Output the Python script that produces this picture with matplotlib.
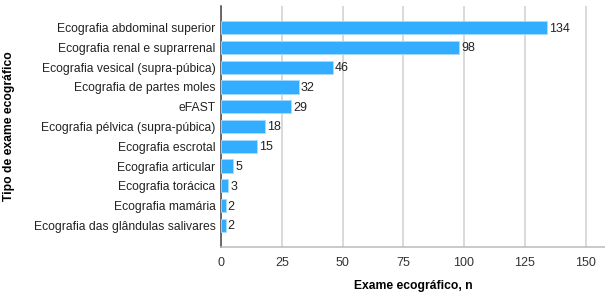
import matplotlib
matplotlib.use("Agg")
import matplotlib.pyplot as plt

categories = [
    "Ecografia abdominal superior",
    "Ecografia renal e suprarrenal",
    "Ecografia vesical (supra-púbica)",
    "Ecografia de partes moles",
    "eFAST",
    "Ecografia pélvica (supra-púbica)",
    "Ecografia escrotal",
    "Ecografia articular",
    "Ecografia torácica",
    "Ecografia mamária",
    "Ecografia das glândulas salivares",
]
values = [134, 98, 46, 32, 29, 18, 15, 5, 3, 2, 2]
xticks = [0, 25, 50, 75, 100, 125, 150]

plt.rcParams['font.family'] = ['Liberation Sans', 'DejaVu Sans']
FS = 8.7

fig = plt.figure(figsize=(6.05, 3.01), dpi=100)
ax = fig.add_axes([221/605, 1-247/301, (605-221)/605, (247-6)/301])

ypos = list(range(len(categories)))
ax.barh(ypos, values, height=0.68, color='#33adff', edgecolor='#a8dcff', linewidth=0.6, zorder=3)
for y, v in zip(ypos, values):
    ax.text(v + 0.8, y + 0.05, str(v), va='center', ha='left', fontsize=FS + 0.3, color='#222222', zorder=4)

ax.set_yticks(ypos)
ax.set_yticklabels(categories, fontsize=FS, color='#222222')
ax.set_ylim(len(categories) - 1 + 1.1, -1.1)
ax.set_xlim(0, 158)
ax.set_xticks(xticks)
ax.set_xticklabels([str(t) for t in xticks], fontsize=FS + 0.3, color='#333333')
ax.tick_params(axis='both', length=0, pad=4)
ax.tick_params(axis='x', pad=7)

ax.grid(axis='x', color='#d0d0d0', linewidth=1.1, zorder=0)
ax.set_axisbelow(True)
for s in ['top', 'right']:
    ax.spines[s].set_visible(False)
ax.spines['left'].set_color('#444444')
ax.spines['left'].set_linewidth(1.1)
ax.spines['bottom'].set_color('#bbbbbb')
ax.spines['bottom'].set_linewidth(1.1)

ax.set_xlabel("Exame ecográfico, n", fontsize=FS, fontweight='bold')
ax.xaxis.set_label_coords(0.5, -(280 - 247) / 241, transform=ax.transAxes)
ax.set_ylabel("Tipo de exame ecográfico", fontsize=FS, fontweight='bold')
ax.yaxis.set_label_coords((15 - 221) / 384, 0.5, transform=ax.transAxes)

fig.savefig("out.png", dpi=100)
